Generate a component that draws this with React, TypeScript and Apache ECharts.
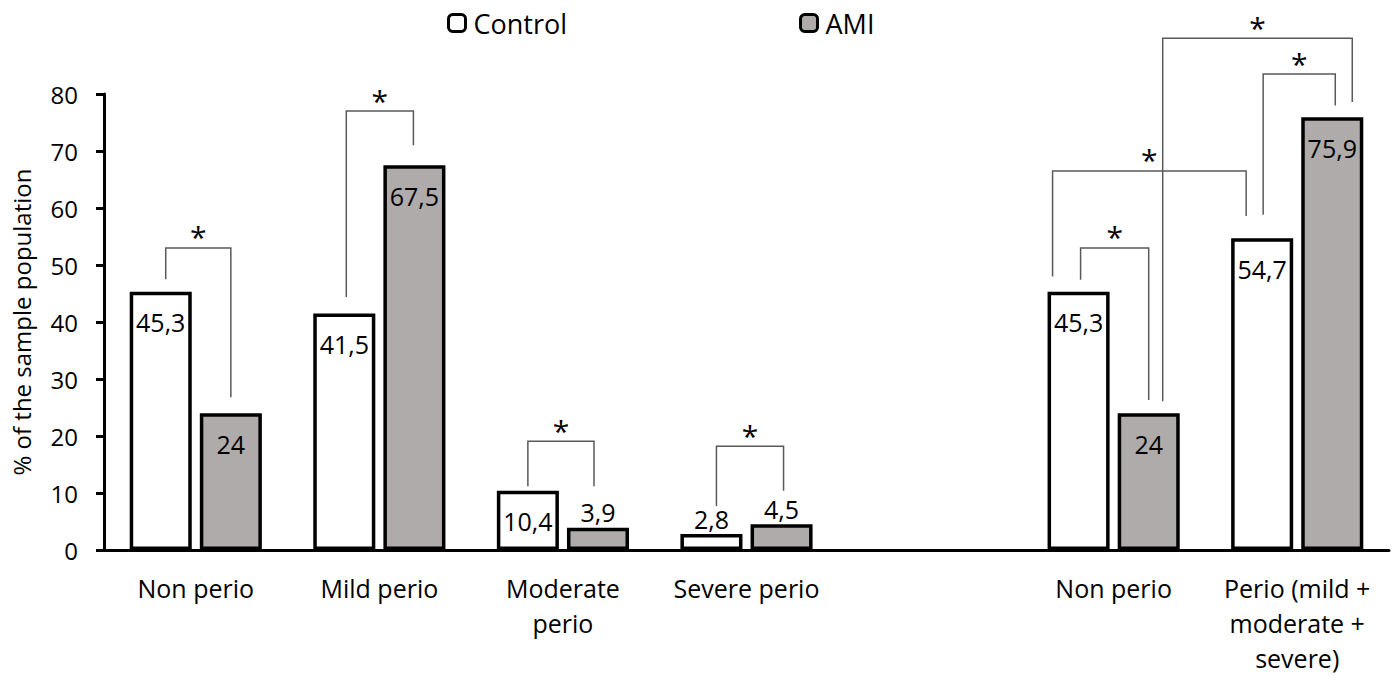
import React, { useEffect, useRef } from 'react';
import * as echarts from 'echarts';

// ---- data ----
const categories = [
  'Non perio',
  'Mild perio',
  'Moderate\nperio',
  'Severe perio',
  '',
  'Non perio',
  'Perio (mild +\nmoderate +\nsevere)',
];
const controlValues = [45.3, 41.5, 10.4, 2.8, null, 45.3, 54.7];
const amiValues = [24, 67.5, 3.9, 4.5, null, 24, 75.9];
const yMin = 0;
const yMax = 80;
const yStep = 10;

// significance brackets: bars joined [category, series(0=Control,1=AMI)], leg ends and top in %
const sigLeftBar = [[0, 0], [1, 0], [2, 0], [3, 0], [5, 0], [5, 0], [6, 0], [5, 1]];
const sigRightBar = [[0, 1], [1, 1], [2, 1], [3, 1], [5, 1], [6, 0], [6, 1], [6, 1]];
const sigLeftEnd = [47.5, 44.4, 11.2, 7.7, 47.4, 48, 58.8, 26.1];
const sigTop = [53, 77, 19.1, 18.2, 53, 66.5, 83.5, 89.8];
const sigRightEnd = [26.8, 71, 11.2, 10.4, 26.3, 58.6, 78, 78.6];
const sigMark = ['*', '*', '*', '*', '*', '*', '*', '*'];

// ---- styling ----
const FONT = 'Open Sans';
const leftNudgePx = [5, 2, 0, 5, 2, -26, 1, 14];
const rightNudgePx = [0, -1, -4, 2, 0, -16, 3, 20];
const BAR_W = 0.338;
const BAR_GAP = 0.13;
const fmt = (v: number) => String(v).replace('.', ',');

export default function App() {
  const ref = useRef<HTMLDivElement>(null);

  useEffect(() => {
    document.body.style.margin = '0';
    if (!ref.current) return;
    const chart = echarts.init(ref.current, undefined, { renderer: 'svg' });

    const makeBarData = (vals: (number | null)[]) =>
      vals.map((v) =>
        v == null
          ? '-'
          : {
              value: v,
              label: v < 8 ? { position: 'top', distance: 3 } : { position: 'insideTop', distance: 18 },
            }
      );

    const labelCfg = {
      show: true,
      formatter: (p: any) => fmt(p.value),
      fontFamily: FONT,
      fontSize: 25,
      color: '#000',
    };

    const barOffset = (BAR_W * (1 + BAR_GAP)) / 2;

    const option: any = {
      animation: false,
      textStyle: { fontFamily: FONT },
      legend: {
        data: ['Control', 'AMI'],
        left: 442,
        top: 4,
        itemWidth: 17,
        itemHeight: 17,
        itemGap: 232,
        selectedMode: false,
        itemStyle: { borderWidth: 3, borderColor: '#000' },
        textStyle: { fontFamily: FONT, fontSize: 27, color: '#000', lineHeight: 28, padding: [0, 0, 0, 3] },
      },
      grid: { left: 104, right: 10, top: 94, bottom: 131, containLabel: false },
      xAxis: {
        type: 'category',
        data: categories,
        axisLine: { show: true, lineStyle: { color: '#000', width: 3 } },
        axisTick: { show: false },
        axisLabel: {
          interval: 0,
          margin: 20,
          fontFamily: FONT,
          fontSize: 25,
          lineHeight: 35,
          color: '#000',
        },
        splitLine: { show: false },
      },
      yAxis: {
        type: 'value',
        min: yMin,
        max: yMax,
        interval: yStep,
        name: '% of the sample population',
        nameLocation: 'middle',
        nameGap: 71,
        nameTextStyle: { fontFamily: FONT, fontSize: 24, color: '#000' },
        axisLine: { show: true, lineStyle: { color: '#000', width: 3 } },
        axisTick: { show: true, length: 8, lineStyle: { color: '#000', width: 3 } },
        axisLabel: { margin: 26, fontFamily: FONT, fontSize: 24, color: '#000' },
        splitLine: { show: false },
      },
      series: [
        {
          name: 'Control',
          type: 'bar',
          data: makeBarData(controlValues),
          barWidth: BAR_W * 100 + '%',
          barGap: BAR_GAP * 100 + '%',
          itemStyle: { color: '#ffffff', borderColor: '#000', borderWidth: 3.5 },
          label: labelCfg,
        },
        {
          name: 'AMI',
          type: 'bar',
          data: makeBarData(amiValues),
          barWidth: BAR_W * 100 + '%',
          barGap: BAR_GAP * 100 + '%',
          itemStyle: { color: '#afabab', borderColor: '#000', borderWidth: 3.5 },
          label: labelCfg,
        },
        {
          name: 'sig',
          type: 'custom',
          clip: false,
          silent: true,
          z: 5,
          encode: { x: 0, y: 1 },
          data: sigTop.map((t, i) => [sigLeftBar[i][0], t, i]),
          renderItem: (params: any, api: any) => {
            const i = params.dataIndex;
            const band = api.size([1, 0])[0];
            const off = band * barOffset;
            const xOf = (bar: number[], nudge: number) =>
              api.coord([bar[0], 0])[0] + (bar[1] === 0 ? -off : off) + nudge;
            const yOf = (v: number) => api.coord([0, v])[1];
            const xl = xOf(sigLeftBar[i], leftNudgePx[i]);
            const xr = xOf(sigRightBar[i], rightNudgePx[i]);
            const yt = yOf(sigTop[i]);
            return {
              type: 'group',
              children: [
                {
                  type: 'polyline',
                  shape: {
                    points: [
                      [xl, yOf(sigLeftEnd[i])],
                      [xl, yt],
                      [xr, yt],
                      [xr, yOf(sigRightEnd[i])],
                    ],
                  },
                  style: { stroke: '#595959', lineWidth: 1.5, fill: 'none' },
                },
                {
                  type: 'text',
                  style: {
                    text: sigMark[i],
                    x: (xl + xr) / 2,
                    y: yt - 11,
                    align: 'center',
                    verticalAlign: 'middle',
                    fontSize: 30,
                    fontFamily: FONT,
                    fill: '#000',
                  },
                },
              ],
            };
          },
        },
      ],
    };

    chart.setOption(option);
    return () => chart.dispose();
  }, []);

  return <div ref={ref} style={{ width: 1399, height: 681 }} />;
}
